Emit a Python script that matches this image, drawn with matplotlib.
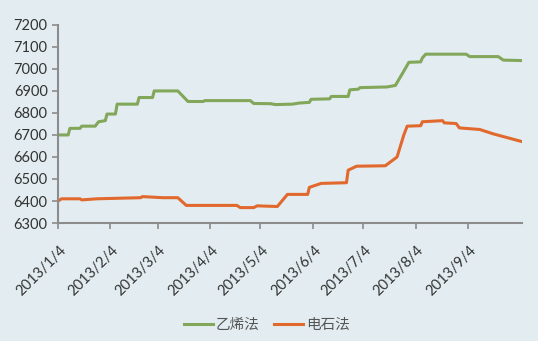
import matplotlib
matplotlib.use("Agg")
import matplotlib.pyplot as plt
import matplotlib.transforms as mtransforms
import pandas as pd

plt.rcParams['font.family'] = ['Lato', 'Noto Sans CJK SC', 'DejaVu Sans']

# 乙烯法 price (yuan/t)
eth_dates = ['2013-01-04', '2013-01-10', '2013-01-11', '2013-01-17', '2013-01-18', '2013-01-26',
             '2013-01-28', '2013-02-01', '2013-02-02', '2013-02-07', '2013-02-08', '2013-02-20',
             '2013-02-21', '2013-03-01', '2013-03-02', '2013-03-16', '2013-03-22', '2013-03-31',
             '2013-04-01', '2013-04-28', '2013-04-30', '2013-05-10', '2013-05-13', '2013-05-23',
             '2013-05-27', '2013-06-02', '2013-06-03', '2013-06-14', '2013-06-15', '2013-06-25',
             '2013-06-26', '2013-07-01', '2013-07-02', '2013-07-18', '2013-07-23', '2013-07-28',
             '2013-07-31', '2013-08-07', '2013-08-08', '2013-08-10', '2013-09-03', '2013-09-05',
             '2013-09-22', '2013-09-25', '2013-10-06']
eth_vals = [6700, 6700, 6730, 6730, 6740, 6740,
            6760, 6765, 6795, 6795, 6840, 6840,
            6870, 6870, 6900, 6900, 6852, 6852,
            6856, 6856, 6843, 6842, 6838, 6840,
            6845, 6848, 6862, 6864, 6875, 6875,
            6905, 6908, 6915, 6918, 6925, 6990,
            7030, 7032, 7050, 7067, 7067, 7056,
            7056, 7040, 7038]

# 电石法 price (yuan/t)
carb_dates = ['2013-01-04', '2013-01-06', '2013-01-17', '2013-01-18', '2013-01-27', '2013-02-22',
              '2013-02-23', '2013-03-07', '2013-03-16', '2013-03-21', '2013-04-20', '2013-04-22',
              '2013-04-30', '2013-05-02', '2013-05-14', '2013-05-20', '2013-06-01', '2013-06-02',
              '2013-06-09', '2013-06-24', '2013-06-25', '2013-06-30', '2013-07-17', '2013-07-24',
              '2013-07-28', '2013-07-30', '2013-08-07', '2013-08-08', '2013-08-20', '2013-08-21',
              '2013-08-28', '2013-08-30', '2013-09-11', '2013-09-19', '2013-10-06']
carb_vals = [6400, 6410, 6410, 6405, 6410, 6415,
             6420, 6415, 6415, 6380, 6380, 6370,
             6370, 6378, 6375, 6430, 6430, 6462,
             6480, 6483, 6540, 6558, 6560, 6600,
             6700, 6740, 6742, 6760, 6765, 6755,
             6752, 6732, 6725, 6705, 6670]

tick_dates = ['2013-01-04', '2013-02-04', '2013-03-04', '2013-04-04', '2013-05-04',
              '2013-06-04', '2013-07-04', '2013-08-04', '2013-09-04']
tick_labels = ['2013/1/4', '2013/2/4', '2013/3/4', '2013/4/4', '2013/5/4',
               '2013/6/4', '2013/7/4', '2013/8/4', '2013/9/4']

bg = '#e3edf1'
fig = plt.figure(figsize=(5.38, 3.41), dpi=100, facecolor=bg)
ax = fig.add_axes([0.108, 0.346, 0.862, 0.581], facecolor=bg)

ax.plot(pd.to_datetime(eth_dates), eth_vals, color='#82a65a', lw=2.2, label='乙烯法')
ax.plot(pd.to_datetime(carb_dates), carb_vals, color='#e2692d', lw=2.2, label='电石法')

ax.set_ylim(6300, 7200)
ax.set_yticks(range(6300, 7201, 100))
ax.set_xlim(pd.Timestamp('2013-01-04'), pd.Timestamp('2013-10-06'))
ax.set_xticks(pd.to_datetime(tick_dates))
ax.set_xticklabels(tick_labels, rotation=45, ha='right', va='center', rotation_mode='anchor')

for s in ['top', 'right']:
    ax.spines[s].set_visible(False)
for s in ['left', 'bottom']:
    ax.spines[s].set_color('#8c8c8c')
    ax.spines[s].set_linewidth(1.5)
ax.tick_params(colors='#8c8c8c', labelcolor='#333333', labelsize=10.5, length=4, width=1.2)
ax.tick_params(axis='x', pad=14)
# shift rotated labels slightly right, like the original
for lbl in ax.get_xticklabels():
    lbl.set_transform(lbl.get_transform() + mtransforms.Affine2D().translate(6, 0))

ax.legend(loc='center', bbox_to_anchor=(0.45, -0.515), ncol=2, frameon=False,
          handlelength=2.0, columnspacing=1.0, handletextpad=0.2,
          labelcolor='#555555', prop={'family': ['Noto Sans CJK SC'], 'size': 10.5})

fig.savefig('out.png', facecolor=bg)
